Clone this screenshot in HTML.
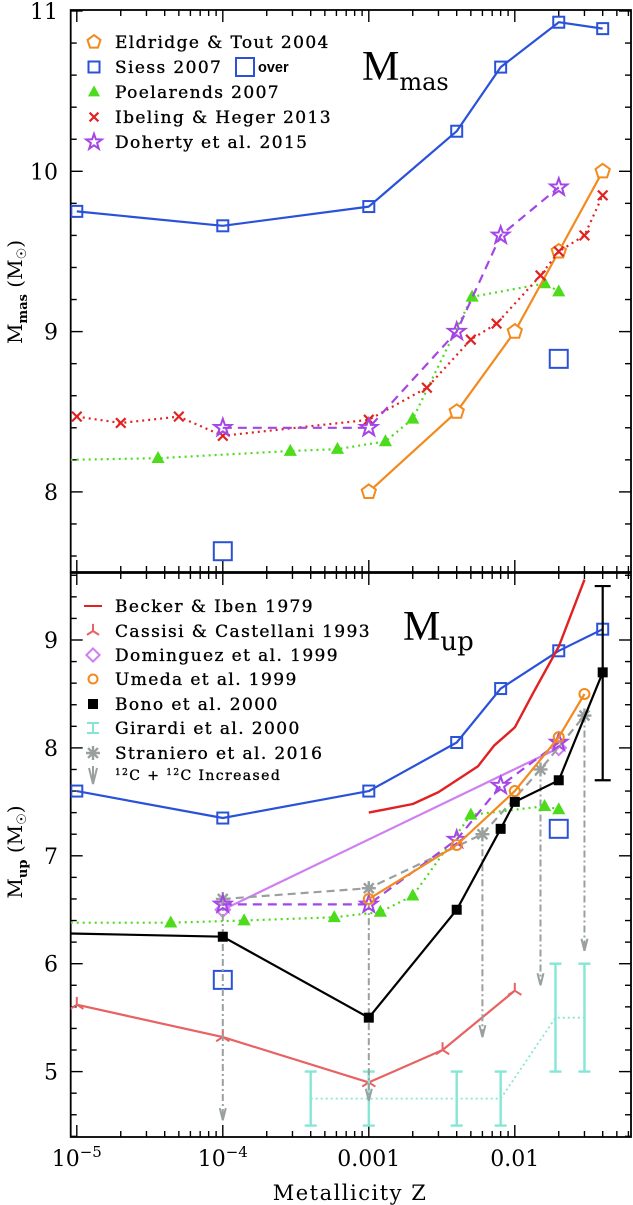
<!DOCTYPE html>
<html><head><meta charset="utf-8"><style>
html,body{margin:0;padding:0;background:#fff;}
svg{display:block;font-family:"DejaVu Serif","Liberation Serif",serif;}
</style></head><body>
<svg id="chart" width="633" height="1205" viewBox="0 0 633 1205" xmlns="http://www.w3.org/2000/svg"></svg>
<script>
// ---------- DATA ----------
const xTickLabels = ["10", "10", "0.001", "0.01"];
const xTickVals = [1e-5, 1e-4, 1e-3, 1e-2];
const topYTicks = [8, 9, 10, 11];
const botYTicks = [5, 6, 7, 8, 9];

// Top panel (M_mas)
const siessZ = [1e-5, 1e-4, 1e-3, 0.004, 0.008, 0.02, 0.04];
const siessMas = [9.75, 9.66, 9.78, 10.25, 10.65, 10.93, 10.89];
const siessOverZ = [1e-4, 0.02];
const siessOverMas = [7.63, 8.83];
const eldZ = [0.001, 0.004, 0.01, 0.02, 0.04];
const eldMas = [8.0, 8.5, 9.0, 9.5, 10.0];
const poelZ = [3.6e-5, 2.9e-4, 6.1e-4, 0.0013, 0.002, 0.0051, 0.016, 0.02];
const poelMas = [8.21, 8.255, 8.267, 8.315, 8.456, 9.217, 9.30, 9.25];
const ibelZ = [1e-5, 2e-5, 5e-5, 1e-4, 1e-3, 0.0025, 0.005, 0.0075, 0.015, 0.02, 0.03, 0.04];
const ibelMas = [8.47, 8.43, 8.47, 8.35, 8.45, 8.65, 8.95, 9.05, 9.35, 9.50, 9.6, 9.85];
const dohZ = [1e-4, 1e-3, 0.004, 0.008, 0.02];
const dohMas = [8.4, 8.4, 9.0, 9.6, 9.9];

// Bottom panel (M_up)
const beckerZ = [0.001, 0.002, 0.003, 0.004, 0.0056, 0.0072, 0.01, 0.0135, 0.02, 0.03];
const beckerUp = [7.40, 7.48, 7.59, 7.70, 7.83, 8.02, 8.19, 8.52, 8.94, 9.56];
const cassZ = [1e-5, 1e-4, 1e-3, 0.0032, 0.01];
const cassUp = [5.62, 5.32, 4.90, 5.20, 5.75];
const domZ = [1e-4, 0.02];
const domUp = [6.5, 8.0];
const umedaZ = [0.001, 0.004, 0.01, 0.02, 0.03];
const umedaUp = [6.6, 7.1, 7.6, 8.1, 8.5];
const bonoZ = [1e-4, 1e-3, 0.004, 0.008, 0.01, 0.02, 0.04];
const bonoUp = [6.25, 5.5, 6.5, 7.25, 7.5, 7.7, 8.7];
const bonoStartUp = 6.28;
const bonoErrLo = 7.7, bonoErrHi = 9.5;
const girZ = [4e-4, 0.001, 0.004, 0.008, 0.019, 0.03];
const girLo = [4.5, 4.5, 4.5, 4.5, 5.0, 5.0];
const girHi = [5.0, 5.0, 5.0, 5.0, 6.0, 6.0];
const girMid = [4.75, 4.75, 4.75, 4.75, 5.5, 5.5];
const strZ = [1e-4, 1e-3, 0.006, 0.015, 0.03];
const strUp = [6.6, 6.7, 7.2, 7.8, 8.3];
const strArrowTo = [4.55, 4.73, 5.32, 5.80, 6.12];
const doh2Z = [1e-4, 1e-3, 0.004, 0.008, 0.02];
const doh2Up = [6.55, 6.55, 7.15, 7.65, 8.05];
const poel2Z = [4.4e-5, 1.4e-4, 5.8e-4, 0.0012, 0.002, 0.005, 0.016, 0.02];
const poel2Up = [6.38, 6.40, 6.43, 6.48, 6.63, 7.38, 7.46, 7.43];
const poel2StartUp = 6.38, poelStartMas = 8.2;
const siess2Z = [1e-5, 1e-4, 1e-3, 0.004, 0.008, 0.02, 0.04];
const siess2Up = [7.6, 7.35, 7.6, 8.05, 8.55, 8.9, 9.1];
const siess2OverZ = [1e-4, 0.02];
const siess2OverUp = [5.85, 7.25];

// ---------- AXES ----------
const NS = "http://www.w3.org/2000/svg";
const svg = document.getElementById("chart");
const X0 = 70.7, X1 = 631;
const xs = z => 76.8 + (Math.log10(z) + 5) * 146;
const T = {top: 10, bot: 572, y: v => 11 + (11 - v) * 160.3, vmin: 7.5, vmax: 11.0};
const B = {top: 573, bot: 1137, y: v => 640 + (9 - v) * 107.9, vmin: 4.39, vmax: 9.63};

function el(tag, attrs, parent) {
  const e = document.createElementNS(NS, tag);
  for (const k in attrs) e.setAttribute(k, attrs[k]);
  (parent || svg).appendChild(e);
  return e;
}
function clip(id, P) {
  const d = el("defs", {});
  const c = el("clipPath", {id: id}, d);
  el("rect", {x: X0, y: P.top, width: X1 - X0, height: P.bot - P.top}, c);
}
clip("ct", T); clip("cb", B);

function frame(P, name) {
  const g = el("g", {});
  
  
  el("rect", {x: X0, y: P.top, width: X1 - X0, height: P.bot - P.top, fill: "none", stroke: "#000", "stroke-width": 1.8}, g);
  for (let e = -5; e <= -1; e++) {
    for (let m = 1; m <= 9; m++) {
      const z = m * Math.pow(10, e);
      const x = xs(z);
      if (x < X0 || x > X1) continue;
      const L = m === 1 ? 12 : 6;
      el("line", {x1: x, x2: x, y1: P.bot, y2: P.bot - L, stroke: "#000", "stroke-width": 1.4}, g);
      el("line", {x1: x, x2: x, y1: P.top, y2: P.top + L, stroke: "#000", "stroke-width": 1.4}, g);
    }
  }
  for (let v = Math.ceil(P.vmin * 5) / 5; v <= P.vmax + 1e-6; v += 0.2) {
    const y = P.y(v);
    const major = Math.abs(v - Math.round(v)) < 1e-6;
    const L = major ? 12 : 6;
    el("line", {x1: X0, x2: X0 + L, y1: y, y2: y, stroke: "#000", "stroke-width": 1.4}, g);
    el("line", {x1: X1, x2: X1 - L, y1: y, y2: y, stroke: "#000", "stroke-width": 1.4}, g);
  }
}
frame(T, "top-panel"); frame(B, "bottom-panel");

function yLabels(P, ticks, name) {
  ticks.forEach(v => {
    const t = el("text", {x: 58, y: P.y(v) + 8, "text-anchor": "end", "font-size": 22});
    
    
    t.textContent = v;
  });
}
yLabels(T, topYTicks, "top-y");
yLabels(B, botYTicks, "bottom-y");

xTickVals.forEach((z, i) => {
  const t = el("text", {x: xs(z), y: 1166, "text-anchor": "middle", "font-size": 22});
  
  
  if (i < 2) {
    t.textContent = xTickLabels[i];
    const s = el("tspan", {dy: -9, "font-size": 15}, t);
    s.textContent = i === 0 ? "−5" : "−4";
  } else t.textContent = xTickLabels[i];
});

// ---------- MARKERS ----------
function marker(type, x, y, color, g, size) {
  const s = size || 6;
  const sw = 2;
  if (type === "sq") el("rect", {x: x - s, y: y - s, width: 2 * s, height: 2 * s, fill: "none", stroke: color, "stroke-width": sw}, g);
  else if (type === "fsq") el("rect", {x: x - s, y: y - s, width: 2 * s, height: 2 * s, fill: color}, g);
  else if (type === "pent") {
    let p = [];
    for (let k = 0; k < 5; k++) { const a = -Math.PI / 2 + k * 2 * Math.PI / 5; p.push((x + s * 1.25 * Math.cos(a)).toFixed(1) + "," + (y + s * 1.25 * Math.sin(a)).toFixed(1)); }
    el("polygon", {points: p.join(" "), fill: "#fff", stroke: color, "stroke-width": sw}, g);
  } else if (type === "tri") {
    el("polygon", {points: `${x},${y - s * 1.2} ${x - s * 1.1},${y + s * 0.8} ${x + s * 1.1},${y + s * 0.8}`, fill: color}, g);
  } else if (type === "x") {
    el("path", {d: `M${x - s * 0.8},${y - s * 0.8}L${x + s * 0.8},${y + s * 0.8}M${x - s * 0.8},${y + s * 0.8}L${x + s * 0.8},${y - s * 0.8}`, stroke: color, "stroke-width": 2.2}, g);
  } else if (type === "star") {
    let p = [];
    for (let k = 0; k < 10; k++) { const r = k % 2 ? s * 0.6 : s * 1.5; const a = -Math.PI / 2 + k * Math.PI / 5; p.push((x + r * Math.cos(a)).toFixed(1) + "," + (y + r * Math.sin(a)).toFixed(1)); }
    el("polygon", {points: p.join(" "), fill: "none", stroke: color, "stroke-width": sw}, g);
  } else if (type === "diam") {
    el("polygon", {points: `${x},${y - s * 1.2} ${x + s * 1.2},${y} ${x},${y + s * 1.2} ${x - s * 1.2},${y}`, fill: "none", stroke: color, "stroke-width": sw}, g);
  } else if (type === "circ") {
    el("circle", {cx: x, cy: y, r: s, fill: "none", stroke: color, "stroke-width": sw}, g);
  } else if (type === "tri3") {
    el("path", {d: `M${x},${y}L${x},${y - s * 1.3}M${x},${y}L${x - s * 1.1},${y + s * 0.7}M${x},${y}L${x + s * 1.1},${y + s * 0.7}`, stroke: color, "stroke-width": 2, fill: "none"}, g);
  } else if (type === "ast") {
    let d = "";
    for (let k = 0; k < 4; k++) { const a = k * Math.PI / 4; d += `M${x - s * Math.cos(a)},${y - s * Math.sin(a)}L${x + s * Math.cos(a)},${y + s * Math.sin(a)}`; }
    el("path", {d: d, stroke: color, "stroke-width": 2.4}, g);
  }
}

function series(P, cid, name, zs, vs, color, dash, mk, opts) {
  opts = opts || {};
  const g = el("g", {"clip-path": `url(#${cid})`});
  
  
  let pts = zs.map((z, i) => [xs(z), P.y(vs[i])]);
  if (opts.startV !== undefined) pts = [[X0, P.y(opts.startV)]].concat(pts);
  if (dash !== null) {
    const attrs = {points: pts.map(p => p[0].toFixed(1) + "," + p[1].toFixed(1)).join(" "), fill: "none", stroke: color, "stroke-width": opts.lw || 2.2, "stroke-linejoin": "round"};
    if (dash) attrs["stroke-dasharray"] = dash;
    el("polyline", attrs, g);
  }
  if (mk) zs.forEach((z, i) => marker(mk, xs(z), P.y(vs[i]), color, g, opts.ms));
  return g;
}

const BLUE = "#2a52d8", ORANGE = "#f28a1e", GREEN = "#4cdc1c", RED = "#e02222", PURPLE = "#a446e6", PINK = "#e86262", VIOLET = "#cf7ff0", TURQ = "#86e6d6", GRAY = "#9aa0a0";
// ---------- TOP PANEL ----------
series(T, "ct", "siess-2007-line", siessZ, siessMas, BLUE, "", "sq", {ms: 5.5});
series(T, "ct", "siess-over-points", siessOverZ, siessOverMas, BLUE, null, "sq", {ms: 9});
series(T, "ct", "poelarends-2007-line", poelZ, poelMas, GREEN, "2,4", "tri", {startV: poelStartMas});
series(T, "ct", "eldridge-tout-2004-line", eldZ, eldMas, ORANGE, "", "pent");
series(T, "ct", "ibeling-heger-2013-line", ibelZ, ibelMas, RED, "2,4", "x");
series(T, "ct", "doherty-2015-line", dohZ, dohMas, PURPLE, "9,6", "star");

// ---------- BOTTOM PANEL ----------
series(B, "cb", "siess-2007-line", siess2Z, siess2Up, BLUE, "", "sq", {ms: 5.5});
series(B, "cb", "siess-over-points", siess2OverZ, siess2OverUp, BLUE, null, "sq", {ms: 9});
series(B, "cb", "becker-iben-1979-line", beckerZ, beckerUp, RED, "", null, {lw: 2.4});
series(B, "cb", "cassisi-castellani-1993-line", cassZ, cassUp, PINK, "", "tri3");
series(B, "cb", "dominguez-1999-line", domZ, domUp, VIOLET, "", "diam");
(function () {
  const g = el("g", {"clip-path": "url(#cb)"});
  
  
  el("polyline", {points: girZ.map((z, i) => xs(z).toFixed(1) + "," + B.y(girMid[i]).toFixed(1)).join(" "), fill: "none", stroke: TURQ, "stroke-width": 1.8, "stroke-dasharray": "2,3"}, g);
  girZ.forEach((z, i) => {
    const x = xs(z), y1 = B.y(girLo[i]), y2 = B.y(girHi[i]);
    el("path", {d: `M${x},${y1}L${x},${y2}M${x - 6},${y1}L${x + 6},${y1}M${x - 6},${y2}L${x + 6},${y2}`, stroke: TURQ, "stroke-width": 2.4}, g);
  });
})();
(function () {
  const g = el("g", {"clip-path": "url(#cb)"});
  
  
  strZ.forEach((z, i) => {
    const x = xs(z), y1 = B.y(strUp[i]), y2 = B.y(strArrowTo[i]);
    el("line", {x1: x, x2: x, y1: y1, y2: y2, stroke: GRAY, "stroke-width": 2, "stroke-dasharray": "7,3,2,3"}, g);
    el("path", {d: `M${x - 3},${y2 - 12}L${x},${y2}L${x + 3},${y2 - 12}`, stroke: GRAY, "stroke-width": 2, fill: "none"}, g);
  });
})();
series(B, "cb", "straniero-2016-line", strZ, strUp, GRAY, "8,5", "ast", {ms: 7});
series(B, "cb", "poelarends-2007-line", poel2Z, poel2Up, GREEN, "2,4", "tri", {startV: poel2StartUp});
series(B, "cb", "doherty-2015-line", doh2Z, doh2Up, PURPLE, "9,6", "star");
series(B, "cb", "umeda-1999-line", umedaZ, umedaUp, ORANGE, "", "circ", {ms: 5});
series(B, "cb", "bono-2000-line", bonoZ, bonoUp, "#000", "", "fsq", {startV: bonoStartUp, ms: 5});
(function () {
  const g = el("g", {});
  
  
  const x = xs(0.04), y1 = B.y(bonoErrLo), y2 = B.y(bonoErrHi);
  el("path", {d: `M${x},${y1}L${x},${y2}M${x - 8},${y1}L${x + 8},${y1}M${x - 8},${y2}L${x + 8},${y2}`, stroke: "#000", "stroke-width": 2.2}, g);
})();

// ---------- LEGENDS ----------
function legend(items, baseX, textX, ys, fs, name) {
  items.forEach((it, i) => {
    const g = el("g", {});
    
    
    const y = ys[i];
    if (it.mk === "line") el("line", {x1: baseX - 9, x2: baseX + 9, y1: y, y2: y, stroke: it.c, "stroke-width": 2}, g);
    else if (it.mk === "bar") el("path", {d: `M${baseX},${y - 5}L${baseX},${y + 5}M${baseX - 6},${y - 5}L${baseX + 6},${y - 5}M${baseX - 6},${y + 5}L${baseX + 6},${y + 5}`, stroke: it.c, "stroke-width": 2}, g);
    else if (it.mk === "arrow") el("path", {d: `M${baseX},${y + 10}L${baseX},${y - 8}M${baseX - 4},${y - 6}L${baseX},${y + 10}L${baseX + 4},${y - 6}`, stroke: it.c, "stroke-width": 2, fill: "none"}, g);
    else if (it.mk) marker(it.mk, baseX, y, it.c, g, it.ms || 5.5);
    const t = el("text", {x: textX, y: y + 6, "font-size": it.fs || fs, "letter-spacing": 1.4, stroke: "#000", "stroke-width": 0.35}, g);
    t.innerHTML = it.t;
  });
}
legend([
  {mk: "pent", c: ORANGE, t: "Eldridge &amp; Tout 2004"},
  {mk: "sq", c: BLUE, t: "Siess 2007"},
  {mk: "tri", c: GREEN, t: "Poelarends 2007"},
  {mk: "x", c: RED, t: "Ibeling &amp; Heger 2013"},
  {mk: "star", c: PURPLE, t: "Doherty et al. 2015"}
], 94, 115, [42, 67, 92, 117, 142], 17, "top-legend");
(function () {
  const g = el("g", {});
  
  
  el("rect", {x: 236, y: 58, width: 18, height: 18, fill: "none", stroke: BLUE, "stroke-width": 2}, g);
  const t = el("text", {x: 258, y: 72, "font-size": 14.5, "font-weight": "bold", "font-family": "Liberation Sans, sans-serif"}, g);
  t.textContent = "over";
})();
legend([
  {mk: "line", c: RED, t: "Becker &amp; Iben 1979"},
  {mk: "tri3", c: PINK, t: "Cassisi &amp; Castellani 1993"},
  {mk: "diam", c: VIOLET, t: "Dominguez et al. 1999"},
  {mk: "circ", c: ORANGE, t: "Umeda et al. 1999", ms: 4.5},
  {mk: "fsq", c: "#000", t: "Bono et al. 2000", ms: 5},
  {mk: "bar", c: TURQ, t: "Girardi et al. 2000"},
  {mk: "ast", c: GRAY, t: "Straniero et al. 2016", ms: 7},
  {mk: "arrow", c: GRAY, t: "<tspan font-size='9' dy='-5'>12</tspan><tspan dy='5'>C + </tspan><tspan font-size='9' dy='-5'>12</tspan><tspan dy='5'>C Increased</tspan>", fs: 14}
], 93, 115, [606, 631, 655, 679, 704, 728, 753, 774], 17, "bottom-legend");

// ---------- PANEL TITLES ----------
let t = el("text", {x: 362, y: 80, "font-size": 42, "font-family": "Liberation Serif, serif"});


t.innerHTML = "M<tspan font-size='24' dy='10' font-family='DejaVu Serif, serif'>mas</tspan>";
t = el("text", {x: 403, y: 640, "font-size": 42, "font-family": "Liberation Serif, serif"});


t.innerHTML = "M<tspan font-size='26' dy='10' font-family='DejaVu Serif, serif'>up</tspan>";

t = el("text", {x: 350, y: 1200, "text-anchor": "middle", "font-size": 21, "letter-spacing": 1.5});


t.textContent = "Metallicity Z";
t = el("text", {x: 0, y: 0, "text-anchor": "middle", "font-size": 20, transform: "translate(22,292) rotate(-90)"});


t.innerHTML = "M<tspan font-size='13' dy='5' font-weight='bold'>mas</tspan><tspan dy='-5'>  (M</tspan><tspan font-size='13' dy='4'>☉</tspan><tspan dy='-4'>)</tspan>";
t = el("text", {x: 0, y: 0, "text-anchor": "middle", "font-size": 20, transform: "translate(22,852) rotate(-90)"});


t.innerHTML = "M<tspan font-size='13' dy='5' font-weight='bold'>up</tspan><tspan dy='-5'>  (M</tspan><tspan font-size='13' dy='4'>☉</tspan><tspan dy='-4'>)</tspan>";
</script>
</body></html>
